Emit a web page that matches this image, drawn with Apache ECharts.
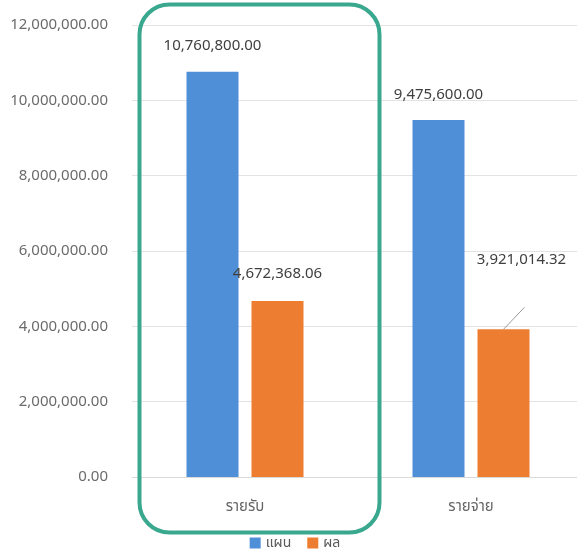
<!DOCTYPE html>
<html>
<head>
<meta charset="utf-8">
<script src="https://cdn.jsdelivr.net/npm/echarts@6/dist/echarts.min.js"></script>
<style>
  html, body { margin: 0; padding: 0; background: #fff; overflow: hidden; }
  #main { width: 590px; height: 556px; }
</style>
</head>
<body>
<div id="main"></div>
<script>
var categories = ['รายรับ', 'รายจ่าย']
var seriesNames = ['แผน', 'ผล']
var planValues = [10760800.00, 9475600.00]
var actualValues = [4672368.06, 3921014.32]

function fmt(v) {
  return Number(v).toLocaleString('en-US', { minimumFractionDigits: 2, maximumFractionDigits: 2 })
}

// chart is a bit wider than the window, right edge is cut off like the original
var dom = document.getElementById('main')
var myChart = echarts.init(dom)
var fontFam = '"Noto Sans", "Noto Sans Thai", Tahoma, sans-serif'

var boxGraphic = {
  // highlight box round the first category
  type: 'rect',
  left: 137,
  top: 2,
  shape: { width: 240, height: 528, r: 30 },
  style: { fill: 'none', stroke: '#3aa88e', lineWidth: 4 },
  z: 100,
}

var option = {
  backgroundColor: '#ffffff',
  color: ['#4f8fd8', '#ed7d31'],
  textStyle: { fontFamily: fontFam },
  grid: { left: 132, top: 25, right: 6, bottom: 79 },
  legend: {
    bottom: 1,
    left: 'center',
    itemWidth: 11,
    itemHeight: 11,
    itemGap: 16,
    icon: 'rect',
    textStyle: { color: '#595959', fontSize: 14, fontFamily: fontFam },
    data: seriesNames,
  },
  xAxis: {
    type: 'category',
    data: categories,
    axisLine: { lineStyle: { color: '#d9d9d9' } },
    axisTick: { show: false },
    axisLabel: { color: '#666666', fontSize: 15, margin: 22, fontFamily: fontFam },
  },
  yAxis: {
    type: 'value',
    min: 0,
    max: 12000000,
    interval: 2000000,
    axisLine: { show: false },
    axisTick: { show: false },
    axisLabel: {
      color: '#6b6b6b',
      fontSize: 15,
      margin: 24,
      formatter: function (v) { return fmt(v) },
    },
    splitLine: { lineStyle: { color: '#e3e3e3' } },
  },
  series: [
    {
      name: seriesNames[0],
      type: 'bar',
      data: planValues,
      barWidth: 52,
      barGap: '25%',
      label: {
        show: true,
        position: 'top',
        distance: 18,
        color: '#404040',
        fontSize: 15,
        formatter: function (p) { return fmt(p.value) },
      },
    },
    {
      name: seriesNames[1],
      type: 'bar',
      data: actualValues,
      barWidth: 52,
      label: {
        show: true,
        position: 'top',
        distance: 20,
        color: '#404040',
        fontSize: 15,
        formatter: function (p) { return fmt(p.value) },
      },
      labelLayout: function (params) {
        // last label is pushed up and right, leader line added below
        if (params.dataIndex === 1) {
          return { dx: 18, dy: -42 }
        }
      },
    },
  ],
  graphic: [boxGraphic],
}
if (option && typeof option === 'object') {
  myChart.setOption(option, true)
}

// leader line from top of the last orange bar toward its label
var lay = myChart.getModel().getSeriesByIndex(1).getData().getItemLayout(1)
if (lay) {
  var bx = lay.x + lay.width / 2
  var by = Math.min(lay.y, lay.y + lay.height)
  myChart.setOption({
    graphic: [
      boxGraphic,
      {
        type: 'line',
        shape: { x1: bx, y1: by, x2: bx + 21, y2: by - 22 },
        style: { stroke: '#9a9a9a', lineWidth: 1 },
        z: 50,
      },
    ],
  })
}
</script>
</body>
</html>
